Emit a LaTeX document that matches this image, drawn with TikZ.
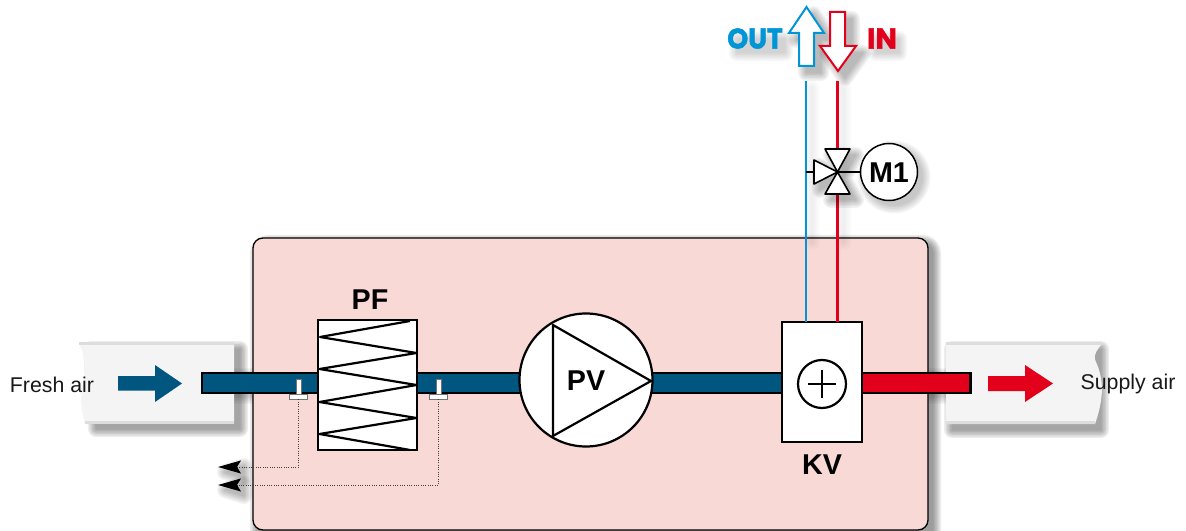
\documentclass[tikz,border=0pt]{standalone}
\usepackage{fontspec}
\setmainfont{Liberation Sans}
\newfontfamily\roundfont{Poppins}[BoldFeatures={FakeBold=1.6}]
\usetikzlibrary{arrows.meta,calc}
\definecolor{ductblue}{HTML}{00567F}
\definecolor{hotred}{HTML}{E2001A}
\definecolor{coldblue}{HTML}{0095D6}
\definecolor{boxpink}{HTML}{F9D9D6}
\definecolor{ductgrey}{HTML}{F4F4F4}
\definecolor{ductedge}{HTML}{DCDEDE}
\def\px{0.75pt}
% soft shadow: nested shapes, each a transparency group so fill and stroke do not add up
\newcommand\softshadow[3][.07]{%
  \foreach \shw in {16,13,10,7,4,1}{%
    \begin{scope}[transparency group,opacity=#1,shift={#2}]
    \filldraw[black,line width=\shw*\px,line join=round] #3;
    \end{scope}}%
}
\tikzset{
  x=0.75pt,y=-0.75pt,
  thickline/.style={draw=black,line width=2.2*\px,line join=miter},
  unit/.style={thickline,fill=white,inner sep=0pt,outer sep=0pt},
  tag/.style={font=\fontsize{21.5pt}{24pt}\selectfont\bfseries,text=black,inner sep=0pt},
  airtext/.style={font=\fontsize{16pt}{18pt}\selectfont,text=black!90,inner sep=0pt},
  flowtext/.style={font=\roundfont\fontsize{21.5pt}{24pt}\selectfont\bfseries,inner sep=0pt},
  pipeline/.style={line width=2.6*\px},
  sensorline/.style={draw=black!75,line width=1*\px,densely dotted,
    -{Stealth[length=23*\px,width=13*\px,inset=4*\px,black]}},
  sensorpart/.style={draw=black!55,fill=white,line width=1*\px},
}
\begin{document}
\begin{tikzpicture}
\useasboundingbox (0,0) rectangle (1186,531);
\clip (0,0) rectangle (1186,531);
% named anchors
\coordinate (pipeTL) at (202,373);
\coordinate (pipeBR) at (318,393);
\coordinate (outTop) at (806,81);
\coordinate (inTop) at (837.5,81);
\coordinate (valve) at (837.5,172);
\coordinate (valveBack) at (814,172);
\coordinate (outTee) at (806,172);
\coordinate (tipA) at (218,467);
\coordinate (tipB) at (218,485);

% shadows below everything
\softshadow[.08]{(5,5)}{[rounded corners=10*\px] (253,238) rectangle (928,540)}
\softshadow{(6,6)}{(85,343) -- (234,343) -- (234,423) -- (90,423) -- cycle}
\softshadow{(6,6)}{(946,343) -- (1095,343) -- (1095,424) -- (946,424) -- cycle}
\softshadow[.04]{(3,3)}{(230,373) rectangle (253,393)}
\softshadow[.04]{(3,3)}{(928,373) rectangle (948,393)}

% cabinet
\node[draw=black,line width=1.3*\px,fill=boxpink,rounded corners=10*\px,minimum width=675*\px,minimum height=292*\px,inner sep=0pt,outer sep=0pt] (cabinet) at (590.5,384) {};

% ducts
\fill[ductgrey] (79,343) .. controls (86,358) and (84,362) .. (85,372) .. controls (82,390) and (78,400) .. (85,423) -- (234,423) -- (234,343) -- cycle;
\fill[ductedge] (79,342) rectangle (234,345);
\fill[ductedge] (85,420.5) rectangle (234,423.5);
\fill[ductgrey] (946,343) -- (1102,343) .. controls (1098,350) and (1092,354) .. (1096,362) .. controls (1104,380) and (1104,398) .. (1095,424) -- (946,424) -- cycle;
\fill[ductedge] (946,342) rectangle (1102,345);
\fill[ductedge] (946,421) rectangle (1095,424);

% flow arrows
\fill[ductblue] (118,376) -- (155,376) -- (155,365) -- (182,383.5) -- (155,402) -- (155,390.5) -- (118,390.5) -- cycle;
\fill[hotred] (988,376) -- (1025,376) -- (1025,365) -- (1053,383.5) -- (1025,402) -- (1025,391) -- (988,391) -- cycle;

% pipes
\draw[thickline,fill=ductblue] (pipeTL) rectangle (pipeBR);
\draw[thickline,fill=ductblue] (417,373) rectangle (530,393);
\draw[thickline,fill=ductblue] (640,373) rectangle (790,393);
\draw[thickline,fill=hotred] (855,373) rectangle (970.5,393);

% pre-filter
\node[unit,minimum width=99*\px,minimum height=130*\px] (pf) at (367.5,385) {};
\begin{scope}
\clip (318,320) rectangle (417,450);
\draw[line width=2.2*\px,line join=round] (410,321) -- (320,337) -- (416.5,353) -- (319.5,369) -- (416.5,385) -- (319.5,402) -- (416.5,418) -- (319.5,434) -- (410,450);
\end{scope}
\draw[thickline] (pf.north west) rectangle (pf.south east);
\node[tag] (pfl) at (370,300) {PF};

% fan
\node[unit,circle,minimum size=133*\px] (pv) at (586,380) {};
\draw[line width=2.2*\px,line join=round] (553,325) -- (651,381) -- (553,436) -- cycle;
\node[tag] (pvl) at (586,381) {PV};

% heating coil
\node[unit,minimum width=80*\px,minimum height=120*\px] (kv) at (822,382) {};
\node[draw=black,line width=2.2*\px,circle,fill=white,minimum size=48*\px,inner sep=0pt] (sum) at (822,384) {};
\draw[line width=1.8*\px] ($(sum)+(-14,0)$) -- ($(sum)+(14,0)$) ($(sum)+(0,-14)$) -- ($(sum)+(0,14)$);
\node[tag] (kvl) at (822,465) {KV};

% medium lines
\softshadow[.012]{(6,6)}{(806,82) rectangle (806,236)}
\softshadow[.012]{(6,6)}{(837.5,82) rectangle (837.5,236)}
\draw[pipeline,draw=coldblue] (outTop) -- (outTop |- kv.north);
\draw[pipeline,draw=hotred] (inTop) -- (inTop |- kv.north);

% medium arrows
\softshadow[.05]{(7,7)}{(806.5,7) -- (824,33) -- (814,33) -- (814,66) -- (799,66) -- (799,33) -- (789,33) -- cycle}
\softshadow[.05]{(7,7)}{(830,12) -- (845,12) -- (845,46) -- (856,46) -- (838,71) -- (820,46) -- (830,46) -- cycle}
\draw[line width=2*\px,draw=coldblue,fill=white,line join=miter] (806.5,7) -- (824,33) -- (814,33) -- (814,66) -- (799,66) -- (799,33) -- (789,33) -- cycle;
\draw[line width=2*\px,draw=hotred,fill=white,line join=miter] (830,12) -- (845,12) -- (845,46) -- (856,46) -- (838,71) -- (820,46) -- (830,46) -- cycle;
\softshadow[.03]{(5,7)}{(732,32) rectangle (780,46)}
\softshadow[.03]{(5,7)}{(871,32) rectangle (894,46)}
\node[flowtext,text=coldblue,xscale=.93] (outl) at (755,38.5) {OUT};
\node[flowtext,text=hotred] (inl) at (882,38.5) {IN};

% valve and actuator
\softshadow[.05]{(6,6)}{(825,149) -- (850,149) -- (837.5,172) -- (850,194) -- (825,194) -- (837.5,172) -- (814,184) -- (814,160) -- (837.5,172) -- cycle}
\softshadow[.04]{(5,5)}{(889,172) circle (28.5)}
\draw[line width=1.6*\px] (outTee) -- (valveBack);
\draw[line width=1.6*\px,fill=white,line join=round] (valve) -- (825,149) -- (850,149) -- cycle;
\draw[line width=1.6*\px,fill=white,line join=round] (valve) -- (825,194) -- (850,194) -- cycle;
\draw[line width=1.6*\px,fill=white,line join=round] (valve) -- (814,160) -- (814,184) -- cycle;
\node[draw=black,line width=1.5*\px,circle,fill=white,minimum size=57*\px,inner sep=0pt,outer sep=0pt] (m1) at (889,172) {};
\draw[line width=1.6*\px] (valve) -- (m1);
\node[tag] (m1l) at (889,172.5) {M1};

% sensors
\softshadow[.05]{(3,5)}{(222,467) -- (241,461) -- (241,473) -- cycle}
\softshadow[.05]{(3,5)}{(222,485) -- (241,479) -- (241,491) -- cycle}
\node[sensorpart,minimum width=5*\px,minimum height=15*\px,inner sep=0pt,outer sep=0pt] (stemA) at (298.5,387) {};
\node[sensorpart,minimum width=18*\px,minimum height=4.5*\px,inner sep=0pt,outer sep=0pt] (baseA) at (298.5,397) {};
\node[sensorpart,minimum width=5*\px,minimum height=15*\px,inner sep=0pt,outer sep=0pt] (stemB) at (438.5,387) {};
\node[sensorpart,minimum width=18*\px,minimum height=4.5*\px,inner sep=0pt,outer sep=0pt] (baseB) at (438.5,397) {};
\draw[sensorline] (baseA.south) |- (tipA);
\draw[sensorline] (baseB.south) |- (tipB);

% air labels
\node[airtext] (fresh) at (52,385) {Fresh air};
\node[airtext] (supply) at (1128,384) {Supply air};
\end{tikzpicture}
\end{document}
